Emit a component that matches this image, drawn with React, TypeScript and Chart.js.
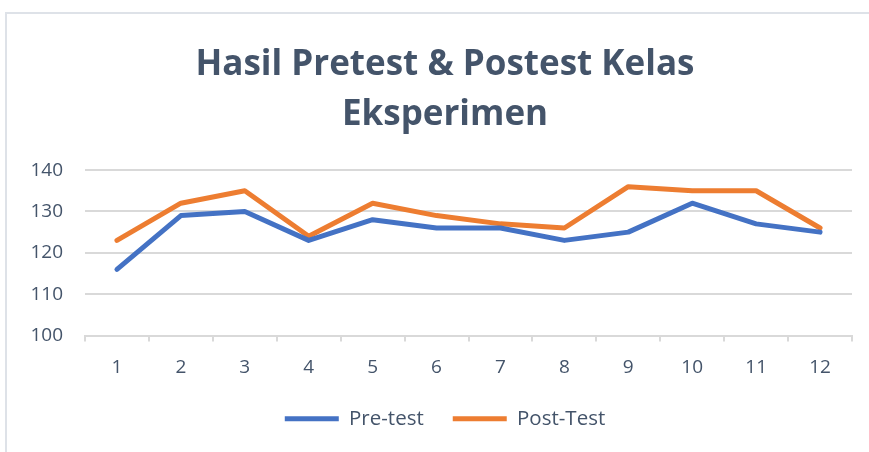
import React, { useEffect, useRef } from "react";
import { Chart, registerables } from "chart.js";

Chart.register(...registerables);

const categories = ["1", "2", "3", "4", "5", "6", "7", "8", "9", "10", "11", "12"];
const preTest = [116, 129, 130, 123, 128, 126, 126, 123, 125, 132, 127, 125];
const postTest = [123, 132, 135, 124, 132, 129, 127, 126, 136, 135, 135, 126];
const titleLines = ["Hasil Pretest & Postest Kelas", "Eksperimen"];
const seriesNames = ["Pre-test", "Post-Test"];

const TEXT = "#44546a";
const GRID = "#d9d9d9";
const FONT = "'Open Sans', sans-serif";

export default function App() {
  const ref = useRef<HTMLCanvasElement | null>(null);

  useEffect(() => {
    if (!ref.current) return;
    const chart = new Chart(ref.current, {
      type: "line",
      data: {
        labels: categories,
        datasets: [
          {
            label: seriesNames[0],
            data: preTest,
            borderColor: "#4472c4",
            backgroundColor: "#4472c4",
            borderWidth: 5,
            pointRadius: 0,
            tension: 0,
            borderCapStyle: "round",
            borderJoinStyle: "round",
          },
          {
            label: seriesNames[1],
            data: postTest,
            borderColor: "#ed7d31",
            backgroundColor: "#ed7d31",
            borderWidth: 5,
            pointRadius: 0,
            tension: 0,
            borderCapStyle: "round",
            borderJoinStyle: "round",
          },
        ],
      },
      options: {
        animation: false,
        responsive: false,
        maintainAspectRatio: false,
        layout: { padding: { left: 0, right: 0, top: 0, bottom: 15 } },
        plugins: {
          tooltip: { enabled: false },
          title: {
            display: true,
            text: titleLines,
            color: TEXT,
            font: { family: FONT, size: 35, weight: "bold", lineHeight: 1.43 },
            padding: { top: 26, bottom: 30 },
          },
          legend: {
            position: "bottom",
            labels: {
              color: TEXT,
              font: { family: FONT, size: 20.5 },
              boxWidth: 54,
              boxHeight: 5,
              padding: 29,
              generateLabels: (c: any) => {
                const items = Chart.defaults.plugins.legend.labels.generateLabels(c);
                return items.map((it: any) => ({ ...it, lineWidth: 0 }));
              },
            },
          },
        },
        scales: {
          x: {
            offset: true,
            afterFit: (s: any) => {
              s.height = 44;
            },
            grid: {
              offset: true,
              drawOnChartArea: false,
              drawTicks: true,
              tickLength: 6,
              color: GRID,
              lineWidth: 2,
            },
            border: { display: true, color: GRID, width: 2 },
            ticks: {
              color: TEXT,
              font: { family: FONT, size: 19 },
              padding: 15,
              maxRotation: 0,
            },
          },
          y: {
            min: 100,
            max: 140,
            afterFit: (s: any) => {
              s.width = 78;
            },
            grid: { color: GRID, lineWidth: 2, drawTicks: false },
            border: { display: false },
            ticks: {
              stepSize: 10,
              color: TEXT,
              font: { family: FONT, size: 19 },
              padding: 22,
            },
          },
          yRight: {
            position: "right",
            display: true,
            min: 100,
            max: 140,
            afterFit: (s: any) => {
              s.width = 31;
            },
            grid: { drawOnChartArea: false, drawTicks: false, display: false },
            border: { display: false },
            ticks: { display: false },
          },
        },
      },
    } as any);
    return () => chart.destroy();
  }, []);

  return (
    <div
      style={{
        position: "absolute",
        left: 5,
        top: 12,
        width: 864,
        height: 440,
        overflow: "hidden",
        borderTop: "2px solid #dee2e8",
        borderLeft: "2px solid #dee2e8",
        background: "#fff",
        boxSizing: "border-box",
      }}
    >
      <canvas ref={ref} width={876} height={440} style={{ display: "block" }} />
    </div>
  );
}
